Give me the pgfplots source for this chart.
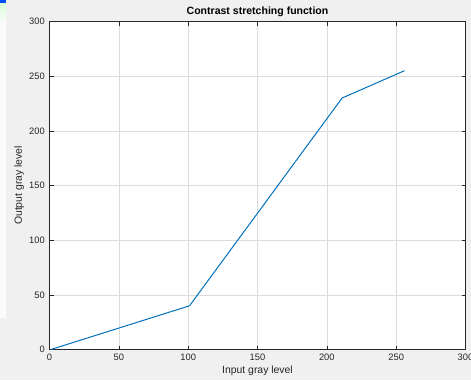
\documentclass[border=0pt]{standalone}
\usepackage{pgfplots}
\pgfplotsset{compat=1.18}
\usepackage{fontspec}
\setmainfont{Liberation Sans}
\definecolor{figbg}{HTML}{F0F0F0}
\definecolor{axcol}{HTML}{262626}
\definecolor{gridcol}{HTML}{DCDCDC}
\definecolor{mblue}{HTML}{0072BD}
\begin{document}
\begin{tikzpicture}[x=0.75pt,y=0.75pt]
\useasboundingbox (0,0) rectangle (471,380);
\fill[figbg] (0,0) rectangle (471,380);
\fill[white!97!gray] (0,62) rectangle (6,380);
\shade[top color=green!15!white, bottom color=white!97!gray] (0,357) rectangle (6,377);
\fill[blue!70!cyan] (0,377) rectangle (6,380);
\begin{axis}[
  scale only axis,
  width=312pt, height=246pt,
  at={(37.125pt,22.875pt)}, anchor=south west,
  xmin=0, xmax=300, ymin=0, ymax=300,
  xtick={0,50,...,300}, ytick={0,50,...,300},
  axis background/.style={fill=white},
  axis line style={axcol, line width=0.6pt},
  tick style={axcol, line width=0.5pt},
  tick align=inside, major tick length=3pt,
  xtick pos=both, ytick pos=both,
  grid=major,
  major grid style={gridcol, line width=0.5pt},
  tick label style={font=\fontsize{7}{8}\selectfont, text=axcol},
  /pgf/number format/assume math mode=true,
  xticklabel style={yshift=0.5pt},
  title={\textbf{Contrast stretching function}},
  title style={font=\fontsize{7.9}{9}\selectfont, text=black, yshift=-6pt},
  xlabel={Input gray level},
  ylabel={Output gray level},
  label style={font=\fontsize{7.8}{9}\selectfont, text=axcol},
  xlabel style={yshift=2.5pt},
  ylabel style={yshift=-3pt},
]
\addplot[mblue, line width=0.75pt] coordinates {(1,0) (101,40) (211,230) (256,255)};
\end{axis}
\end{tikzpicture}
\end{document}
